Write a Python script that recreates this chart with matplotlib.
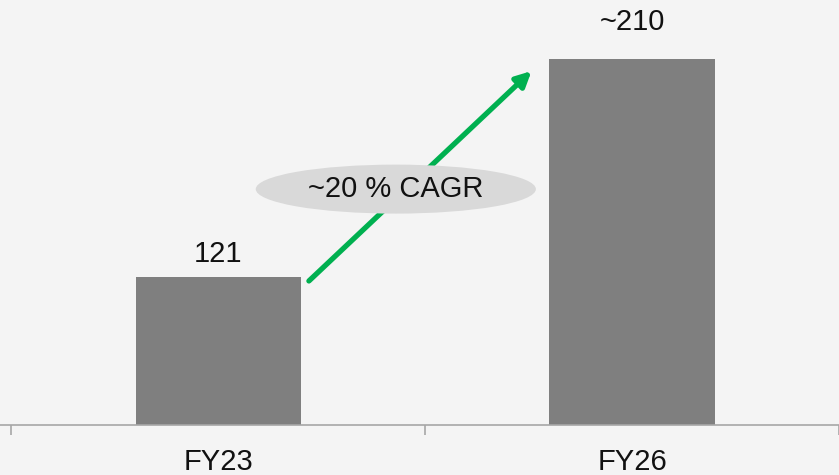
import matplotlib.pyplot as plt
from matplotlib.patches import Ellipse

plt.rcParams['font.family'] = ['Liberation Sans', 'DejaVu Sans']

categories = ['FY23', 'FY26']
values = [121, 210]
value_labels = ['121', '~210']
cagr_text = '~20 % CAGR'

bg = '#f4f4f4'
bar_color = '#7f7f7f'
green = '#00b050'
bar_w = 0.4

fig = plt.figure(figsize=(8.39, 4.75), dpi=100, facecolor=bg)
ax = fig.add_axes([0, 0.1063, 1, 0.8937], facecolor=bg)

x = list(range(len(categories)))
ax.bar(x, values, width=bar_w, color=bar_color, zorder=2)

# truncated value axis, as in the slide
ax.set_ylim(60.9, 234.2)
ax.set_xlim(-0.5275, 1.48)

# value labels above the bars
offsets = [7, 17]
for xi, v, lab, off in zip(x, values, value_labels, offsets):
    ax.annotate(lab, (xi, v), xytext=(0, off), textcoords='offset points',
                ha='center', va='bottom', fontsize=21, color='#111111')

# growth arrow from first bar to second
ax.annotate('', xy=(1 - bar_w / 2 - 0.043, values[1] - 4.8),
            xytext=(bar_w / 2 + 0.019, values[0] - 1.5),
            arrowprops=dict(arrowstyle='-|>,head_length=0.9,head_width=0.45',
                            color=green, lw=3.8, shrinkA=0, shrinkB=0),
            zorder=3)

# CAGR bubble
ax.add_patch(Ellipse((0.429, 157), 0.677, 20, facecolor='#d9d9d9',
                     edgecolor='none', zorder=4))
ax.text(0.429, 157, cagr_text, ha='center', va='center', fontsize=21,
        color='#111111', zorder=5)

for s in ['top', 'right', 'left']:
    ax.spines[s].set_visible(False)
ax.spines['bottom'].set_color('#a6a6a6')
ax.spines['bottom'].set_linewidth(1.2)
ax.set_yticks([])

ax.set_xticks([-0.5, 0.5, 1.5])
ax.set_xticklabels([])
ax.tick_params(axis='x', which='major', length=7, width=1.2, color='#a6a6a6')
ax.set_xticks(x, minor=True)
ax.set_xticklabels(categories, minor=True)
ax.tick_params(axis='x', which='minor', length=0, pad=17, labelsize=21,
               labelcolor='#111111')

fig.savefig('out.png', dpi=100, facecolor=bg)
